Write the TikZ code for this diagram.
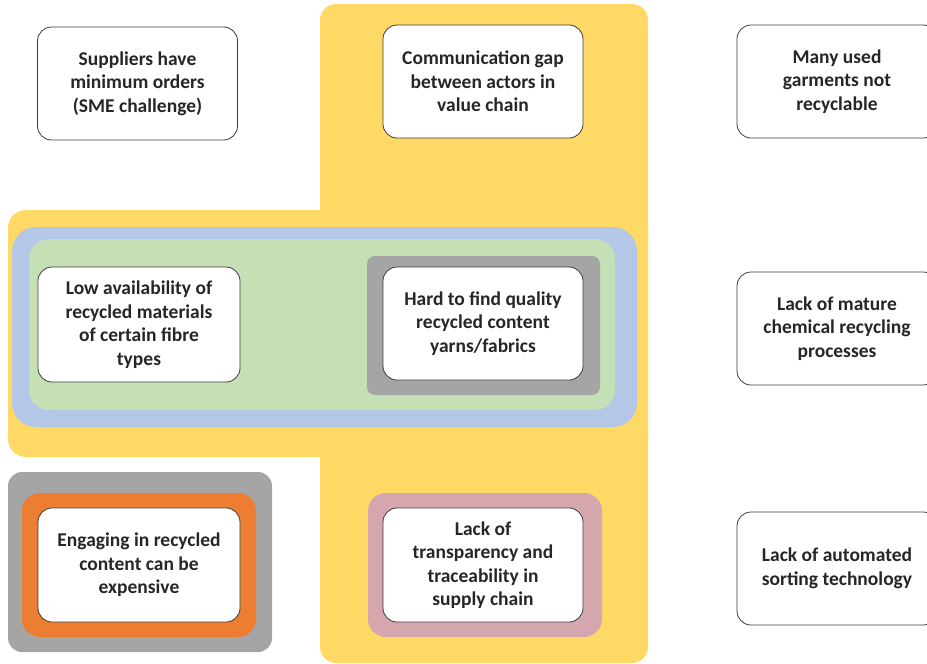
\documentclass[tikz,border=0pt]{standalone}
\usepackage{fontspec}
\setmainfont{Carlito}
\usetikzlibrary{positioning}
\definecolor{ZoneYellow}{RGB}{255,217,102}
\definecolor{ZoneBlue}{RGB}{180,199,231}
\definecolor{ZoneGreen}{RGB}{197,224,180}
\definecolor{ZoneGray}{RGB}{165,165,165}
\definecolor{ZoneOrange}{RGB}{237,125,49}
\definecolor{ZoneRose}{RGB}{213,166,174}
\definecolor{InkGray}{RGB}{38,38,38}
\tikzset{
  issue/.style={draw=InkGray!90,line width=0.8pt,fill=white,rounded corners=14pt,
    minimum width=200pt,minimum height=113pt,align=center,text=InkGray,
    font=\fontsize{19.5}{23.5}\selectfont\bfseries,inner sep=2pt},
}

\begin{document}
\begin{tikzpicture}[x=1pt,y=-1pt]
  \useasboundingbox (0,0) rectangle (927,664);
  % background zones
  \fill[ZoneYellow,rounded corners=16pt] (320,4) rectangle (648,663);
  \fill[ZoneYellow,rounded corners=18pt] (8,210) rectangle (648,457);
  \fill[ZoneBlue,rounded corners=24pt] (12,227) rectangle (637,427);
  \fill[ZoneGreen,rounded corners=20pt] (29,239) rectangle (615,410);
  \fill[ZoneGray,rounded corners=8pt] (367,256) rectangle (600,395);
  \fill[ZoneGray,rounded corners=14pt] (8,472) rectangle (272,652);
  \fill[ZoneOrange,rounded corners=18pt] (22,493) rectangle (256,637);
  \fill[ZoneRose,rounded corners=18pt] (368,493) rectangle (602,637);
  % issues
  \node[issue] (suppliers) at (137.5,83.5) {Suppliers have\\minimum orders\\(SME challenge)};
  \node[issue] (commgap) at (483,81.5) {Communication gap\\between actors in\\value chain};
  \node[issue] (garments) at (837,81.5) {Many used\\garments not\\recyclable};
  \node[issue,minimum width=202pt,minimum height=115pt] (lowavail) at (139,324.5)
    {Low availability of\\recycled materials\\of certain fibre\\types};
  \node[issue] (hardfind) at (483,323.5) {Hard to find quality\\recycled content\\yarns/fabrics};
  \node[issue] (chemical) at (837,328.5) {Lack of mature\\chemical recycling\\processes};
  \node[issue,minimum width=202pt,minimum height=114pt] (expensive) at (139,565)
    {Engaging in recycled\\content can be\\expensive};
  \node[issue,minimum height=114pt] (tracing) at (483,565)
    {Lack of\\transparency and\\traceability in\\supply chain};
  \node[issue] (sorting) at (837,568.5) {Lack of automated\\sorting technology};
\end{tikzpicture}
\end{document}
